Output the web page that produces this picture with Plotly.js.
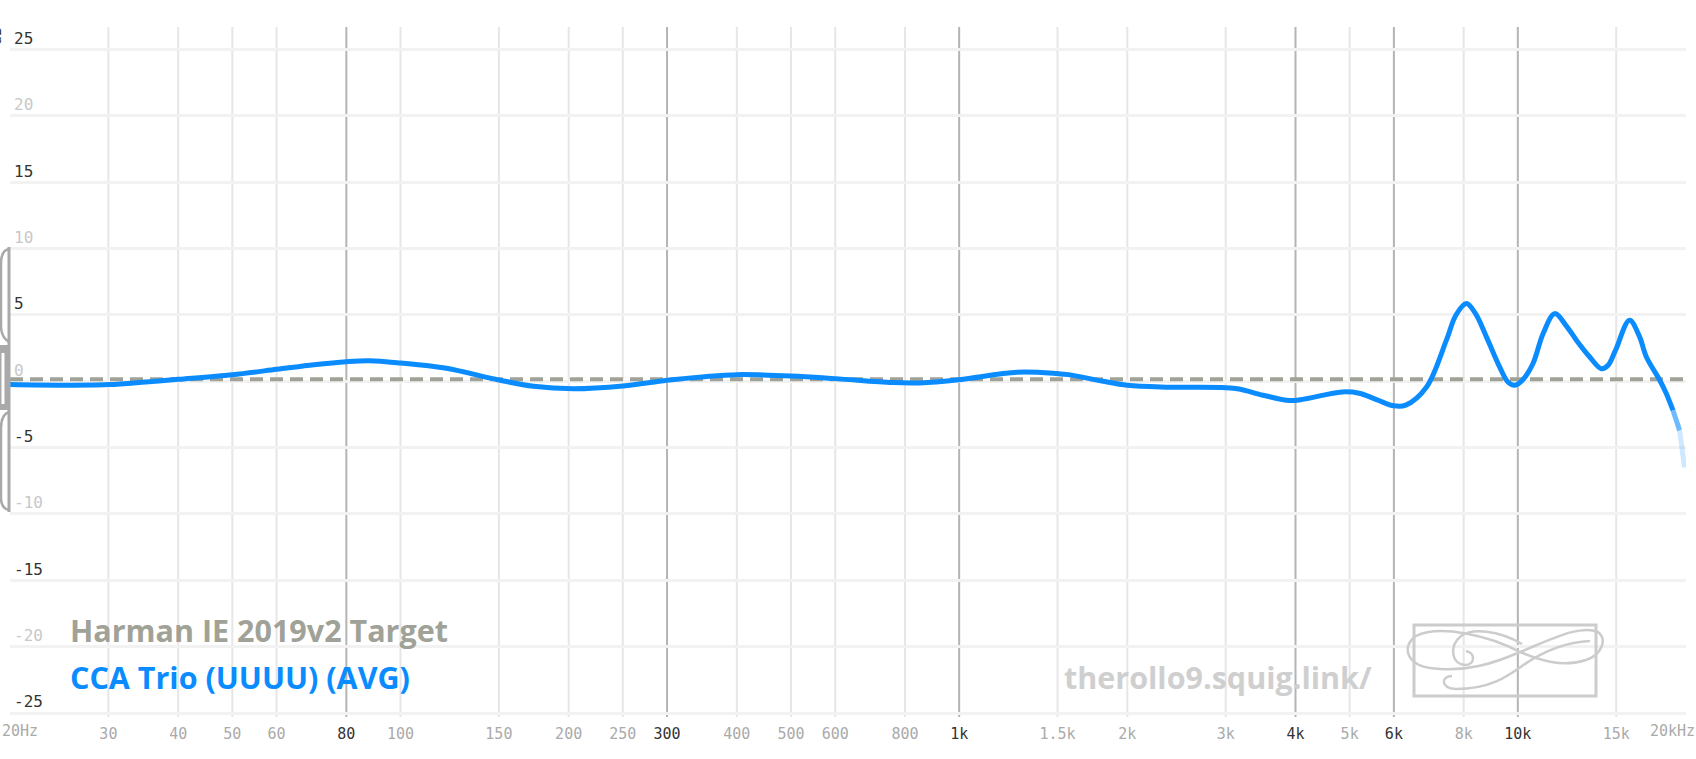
<!DOCTYPE html>
<html><head><meta charset="utf-8">
<script src="https://cdn.plot.ly/plotly-3.0.1.min.js"></script>
<style>html,body{margin:0;padding:0;background:#fff;overflow:hidden}#chart{width:1696px;height:759px}</style>
</head><body><div id="chart"></div>
<script>
// ---- data ----
const freqHz = [20,25,30,35,40,50,60,70,80,88,100,120,150,173,204,250,300,350,400,500,600,760,850,1000,1270,1500,1570,1800,2000,2350,3000,3170,3500,3900,4100,4850,5200,5600,6000,6300,6860,7450,7750,8090,8400,8790,9280,9600,9870,10200,10640,11100,11640,12200,12730,13440,14110,14500,14960,15850,16500,16980,17940,18430,18960];
const measDb = [-0.25,-0.3,-0.25,-0.05,0.15,0.5,0.9,1.25,1.48,1.55,1.38,1.0,0.1,-0.38,-0.56,-0.35,0.08,0.35,0.5,0.4,0.2,-0.1,-0.12,0.12,0.68,0.58,0.5,0.02,-0.3,-0.44,-0.48,-0.58,-1.05,-1.45,-1.38,-0.8,-0.9,-1.4,-1.85,-1.8,-0.45,3.1,5.0,5.86,5.1,3.33,1.07,-0.05,-0.3,0.1,1.32,3.6,5.1,4.2,3.1,1.85,0.95,1.2,2.35,4.6,3.4,1.85,0.1,-0.9,-2.2];
const tailFreqHz = [18960,19480,19880];
const tailDb = [-2.2,-3.7,-6.5];
const targetFreqHz = [20,20000];
const targetDb = [0.15,0.15];

const yTickVals = [-25,-20,-15,-10,-5,0,5,10,15,20,25];
const yTickText = ['-25','-20','-15','-10','-5','0','5','10','15','20','25'];
const yTickDark = [true,false,true,false,true,false,true,false,true,false,true];

const xTickVals = [30,40,50,60,80,100,150,200,250,300,400,500,600,800,1000,1500,2000,3000,4000,5000,6000,8000,10000,15000];
const xTickText = ['30','40','50','60','80','100','150','200','250','300','400','500','600','800','1k','1.5k','2k','3k','4k','5k','6k','8k','10k','15k'];
const xTickDark = [false,false,false,false,true,false,false,false,false,true,false,false,false,false,true,false,false,false,true,false,true,false,true,false];
const xEdgeLabels = ['20Hz','20kHz'];

const targetName = 'Harman IE 2019v2 Target';
const measName = 'CCA Trio (UUUU) (AVG)';
const watermark = 'therollo9.squig.link/';

// ---- styling ----
const BLUE = 'rgb(10,140,255)';
const TGRAY = '#a0a297';
const DARK = '#333333';
const MONO = 'DejaVu Sans Mono';
const L = 10, T = 27, W = 1676, H = 690;
const FMIN = 20, FMAX = 20000;
const px = x => (x - L) / W;
const py = y => (T + H - y) / H;
const fx = f => (Math.log10(f) - Math.log10(FMIN)) / (Math.log10(FMAX) - Math.log10(FMIN));
const tp = s => s.replace(/(-?\d+\.?\d*),(-?\d+\.?\d*)/g, (m, a, b) => px(+a).toFixed(5) + ',' + py(+b).toFixed(5));

const traces = [
  {x: targetFreqHz, y: targetDb, mode: 'lines', line: {color: TGRAY, width: 4, dash: '13px,7px'}, hoverinfo: 'skip'},
  {x: freqHz, y: measDb, mode: 'lines', line: {color: BLUE, width: 5, shape: 'spline', smoothing: 1}, hoverinfo: 'skip'},
  {x: tailFreqHz.slice(0,2), y: tailDb.slice(0,2), mode: 'lines', opacity: 0.6, line: {color: BLUE, width: 5}, hoverinfo: 'skip'},
  {x: tailFreqHz.slice(1,3), y: tailDb.slice(1,3), mode: 'lines', opacity: 0.2, line: {color: BLUE, width: 5}, hoverinfo: 'skip'}
];

const shapes = [];
xTickVals.forEach((f, i) => {
  shapes.push({type: 'line', xref: 'paper', yref: 'paper', x0: fx(f), x1: fx(f), y0: 0, y1: 1,
    layer: 'below', line: {color: xTickDark[i] ? '#b4b4b4' : '#e6e6e6', width: 2}});
});
// left scroll handle
const HC = '#a9a9a9';
shapes.push({type: 'line', xref: 'paper', yref: 'paper', x0: px(9), x1: px(9), y0: py(247), y1: py(512), line: {color: HC, width: 3}});
shapes.push({type: 'path', xref: 'paper', yref: 'paper', path: tp('M9,249 C3,250 1,256 1,264 L1,326 C1,334 4,339 9,342'), line: {color: HC, width: 2.5}});
shapes.push({type: 'path', xref: 'paper', yref: 'paper', path: tp('M9,412 C3,414 1,420 1,428 L1,498 C1,505 4,509 9,510'), line: {color: HC, width: 2.5}});
shapes.push({type: 'path', xref: 'paper', yref: 'paper', path: tp('M0,345 L9,345 L9,410 L0,410 Z'), fillcolor: HC, line: {width: 0}});
shapes.push({type: 'path', xref: 'paper', yref: 'paper', path: tp('M1.5,353 L4.5,353 L4.5,404 L1.5,404 Z'), fillcolor: '#ffffff', line: {width: 0}});
// logo
const LC = '#cccccc';
shapes.push({type: 'rect', xref: 'paper', yref: 'paper', x0: px(1414), x1: px(1596), y0: py(625), y1: py(696), line: {color: LC, width: 3}});
shapes.push({type: 'path', xref: 'paper', yref: 'paper', line: {color: LC, width: 2.5},
  path: tp('M1520,652 C1490,636 1440,624 1416,636 C1402,645 1405,664 1430,668 C1465,673 1495,663 1520,652 C1550,640 1580,624 1598,632 C1608,640 1601,655 1586,660 C1562,668 1540,660 1520,652')});
shapes.push({type: 'path', xref: 'paper', yref: 'paper', line: {color: LC, width: 2.5},
  path: tp('M1452,676 C1441,676 1440,688 1456,689 C1490,689 1508,676 1522,666 C1542,652 1566,642 1590,641')});
shapes.push({type: 'path', xref: 'paper', yref: 'paper', line: {color: LC, width: 2.5},
  path: tp('M1522,644 C1498,630 1472,628 1461,636 C1449,646 1451,664 1465,665 C1475,665 1476,653 1466,651')});

const annotations = [
  {text: xEdgeLabels[0], xref: 'paper', yref: 'paper', x: px(0), y: py(731), xanchor: 'left', yanchor: 'middle', showarrow: false, font: {family: MONO, size: 15, color: '#aaaaaa'}},
  {text: xEdgeLabels[1], xref: 'paper', yref: 'paper', x: px(1697), y: py(731), xanchor: 'right', yanchor: 'middle', showarrow: false, font: {family: MONO, size: 15, color: '#aaaaaa'}},
  {text: 'dB', xref: 'paper', yref: 'paper', x: px(-4), y: py(36), xanchor: 'center', yanchor: 'middle', textangle: -90, showarrow: false, font: {family: MONO, size: 15, color: DARK}},
  {text: targetName, xref: 'paper', yref: 'paper', x: px(68), y: py(630), xanchor: 'left', yanchor: 'middle', showarrow: false, font: {family: 'Open Sans', size: 30.5, weight: 700, color: TGRAY}},
  {text: measName, xref: 'paper', yref: 'paper', x: px(68), y: py(677), xanchor: 'left', yanchor: 'middle', showarrow: false, font: {family: 'Open Sans', size: 30.5, weight: 700, color: BLUE}},
  {text: watermark, xref: 'paper', yref: 'paper', x: px(1062), y: py(677), xanchor: 'left', yanchor: 'middle', showarrow: false, font: {family: 'Open Sans', size: 30.5, weight: 700, color: '#cfcfcf'}}
];

const layout = {
  width: 1696, height: 759,
  margin: {l: L, r: 1696 - L - W, t: T, b: 759 - T - H, pad: 0},
  paper_bgcolor: '#ffffff', plot_bgcolor: '#ffffff',
  showlegend: false,
  xaxis: {type: 'log', range: [Math.log10(FMIN), Math.log10(FMAX)], showgrid: false, zeroline: false, showline: false,
    tickvals: xTickVals, ticktext: xTickText.map((t, i) => `<span style="color:${xTickDark[i] ? DARK : '#aaaaaa'}">${t}</span>`),
    ticks: '', ticklabelstandoff: 6, tickfont: {family: MONO, size: 15}},
  yaxis: {range: [-25.3, 26.7], showgrid: true, gridcolor: '#f2f2f2', gridwidth: 3, zeroline: false, showline: false,
    tickvals: yTickVals, ticktext: yTickText.map((t, i) => `<span style="color:${yTickDark[i] ? DARK : '#c8c8c8'}">${t}</span>`),
    ticks: '', ticklabelposition: 'inside top', ticklabelstandoff: 1, tickfont: {family: MONO, size: 16}},
  shapes: shapes,
  annotations: annotations
};

Plotly.newPlot('chart', traces, layout, {staticPlot: true, displayModeBar: false});
</script></body></html>
